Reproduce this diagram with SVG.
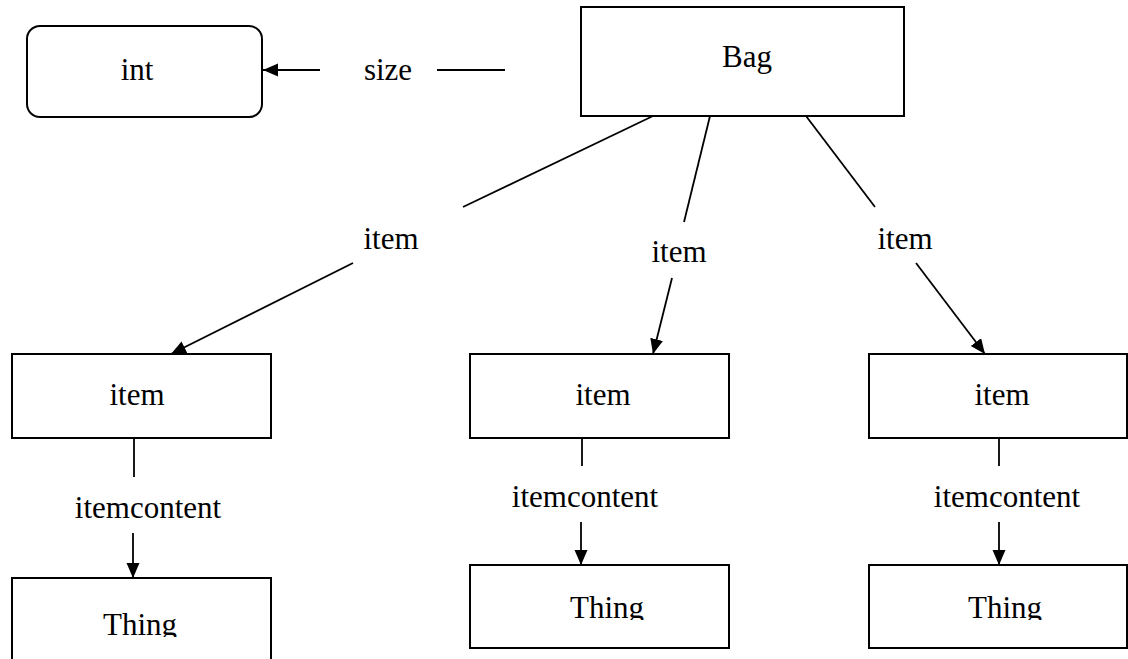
<svg xmlns="http://www.w3.org/2000/svg" width="1128" height="659" viewBox="0 0 1128 659">
<style>
.box{fill:#fff;stroke:#000;stroke-width:2}
.t{font-family:'Liberation Serif','DejaVu Serif',serif;font-size:31px;fill:#000;text-anchor:middle}
.c{stroke:#000;stroke-width:1.8;fill:none}
.a{marker-end:url(#ah)}
</style>
<defs>
<marker id="ah" markerUnits="userSpaceOnUse" markerWidth="16" markerHeight="14" refX="15" refY="6.5" orient="auto">
<path d="M0,0 L15,6.5 L0,13 z" fill="#000"/>
</marker>
<clipPath id="cl1"><rect x="0" y="0" width="1128" height="637"/></clipPath>
<clipPath id="cl2"><rect x="0" y="0" width="1128" height="620"/></clipPath>
</defs>
<rect width="1128" height="659" fill="#fff"/>
<g id="connectors">
<line class="c" x1="505" y1="70" x2="437" y2="70"/>
<line class="c a" x1="320" y1="70" x2="263" y2="70"/>
<line class="c" x1="653" y1="116" x2="463" y2="207"/>
<line class="c a" x1="353" y1="263" x2="171" y2="354"/>
<line class="c" x1="710" y1="116" x2="684" y2="222"/>
<line class="c a" x1="672" y1="278" x2="653" y2="354"/>
<line class="c" x1="806" y1="116" x2="875" y2="207"/>
<line class="c a" x1="916" y1="263" x2="985" y2="354"/>
<line class="c" x1="134" y1="438" x2="134" y2="477"/>
<line class="c a" x1="133" y1="533" x2="133" y2="578"/>
<line class="c" x1="582" y1="438" x2="582" y2="466"/>
<line class="c a" x1="581" y1="522" x2="581" y2="565"/>
<line class="c" x1="999" y1="438" x2="999" y2="466"/>
<line class="c a" x1="999" y1="522" x2="999" y2="565"/>
<text class="t" x="388" y="80" font-family="Liberation Serif">size</text>
<text class="t" x="391" y="249">item</text>
<text class="t" x="679" y="262">item</text>
<text class="t" x="905" y="249">item</text>
<text class="t" x="148" y="518">itemcontent</text>
<text class="t" x="585" y="507">itemcontent</text>
<text class="t" x="1007" y="507">itemcontent</text>
</g>
<g id="int"><rect class="box" x="27" y="26" width="235" height="91" rx="13"/><text class="t" x="137" y="80">int</text></g>
<g id="bag"><rect class="box" x="581" y="7" width="323" height="109"/><text class="t" x="747" y="67">Bag</text></g>
<g id="item1"><rect class="box" x="12" y="354" width="259" height="84"/><text class="t" x="137" y="405">item</text></g>
<g id="item2"><rect class="box" x="470" y="354" width="259" height="84"/><text class="t" x="603" y="405">item</text></g>
<g id="item3"><rect class="box" x="869" y="354" width="258" height="84"/><text class="t" x="1002" y="405">item</text></g>
<g id="thing1"><rect class="box" x="12" y="578" width="259" height="100"/><text class="t" x="140" y="635" clip-path="url(#cl1)">Thing</text></g>
<g id="thing2"><rect class="box" x="470" y="565" width="259" height="83"/><text class="t" x="607" y="618" clip-path="url(#cl2)">Thing</text></g>
<g id="thing3"><rect class="box" x="869" y="565" width="258" height="83"/><text class="t" x="1005" y="618" clip-path="url(#cl2)">Thing</text></g>
</svg>
